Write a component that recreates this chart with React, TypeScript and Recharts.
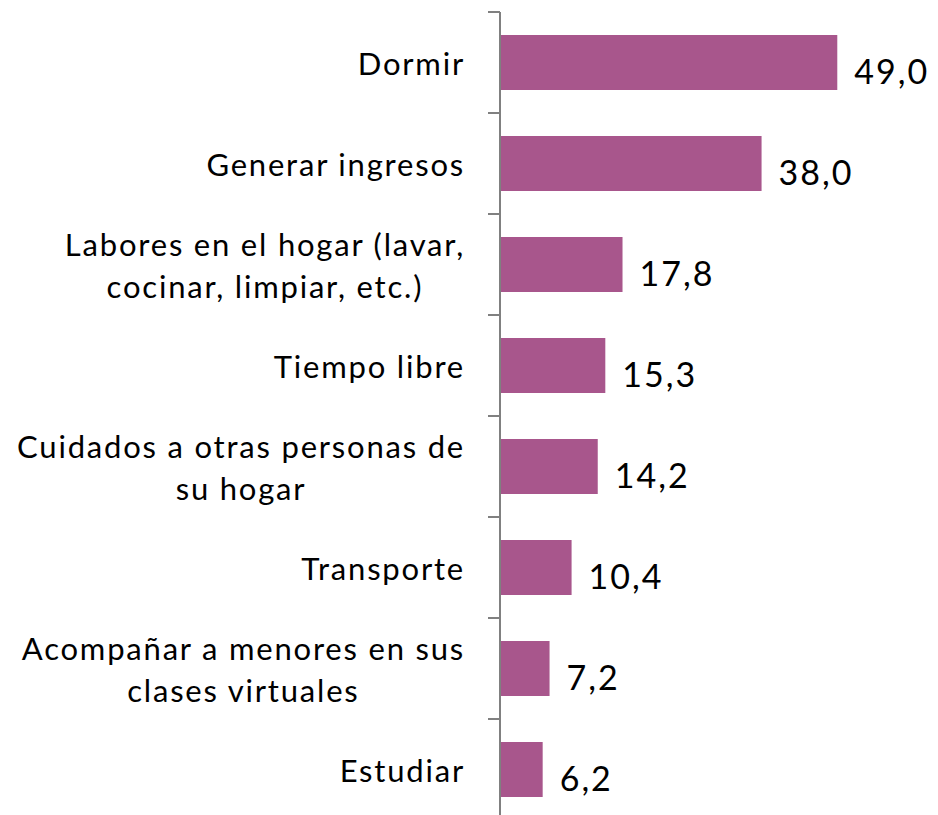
import React from 'react';
import { Bar, BarChart, LabelList, XAxis, YAxis } from 'recharts';

const categories = [
  'Dormir',
  'Generar ingresos',
  'Labores en el hogar (lavar,\ncocinar, limpiar, etc.)',
  'Tiempo libre',
  'Cuidados a otras personas de\nsu hogar',
  'Transporte',
  'Acompañar a menores en sus\nclases virtuales',
  'Estudiar',
];
const values = [49.0, 38.0, 17.8, 15.3, 14.2, 10.4, 7.2, 6.2];

const data = categories.map((name, i) => ({ name, value: values[i] }));

const W = 938;
const H = 820;
const TOP = 12;
const BAND = (H - TOP) / categories.length;
const FONT = 'Lato, "Open Sans", sans-serif';

const CategoryTick = (props: any) => {
  const { x, y, payload, index } = props;
  const lines = String(payload.value).split('\n');
  const axisX = x + 35;
  return (
    <g>
      <line x1={axisX - 12} x2={axisX} y1={y - BAND / 2} y2={y - BAND / 2} stroke="#808080" strokeWidth={2} />
      {index === categories.length - 1 && (
        <line x1={axisX - 12} x2={axisX} y1={y + BAND / 2} y2={y + BAND / 2} stroke="#808080" strokeWidth={2} />
      )}
      <foreignObject x={0} y={y - 50} width={x} height={100}>
        <div
          style={{
            display: 'flex',
            justifyContent: 'flex-end',
            alignItems: 'center',
            height: '100%',
          }}
        >
          <div
            style={{
              textAlign: 'center',
              fontFamily: FONT,
              fontSize: 31,
              letterSpacing: '1.8px',
              lineHeight: '42px',
              color: '#000',
              whiteSpace: 'nowrap',
            }}
          >
            {lines.map((l, i) => (
              <div key={i}>{l}</div>
            ))}
          </div>
        </div>
      </foreignObject>
    </g>
  );
};

const ValueLabel = (props: any) => {
  const { x, y, width, height, value } = props;
  return (
    <text
      x={x + width + 17}
      y={y + height / 2 + 8}
      dominantBaseline="central"
      fontFamily={FONT}
      fontSize={34}
      letterSpacing={2}
      fill="#000"
    >
      {Number(value).toFixed(1).replace('.', ',')}
    </text>
  );
};

export default function App() {
  return (
    <div style={{ position: 'absolute', left: 0, top: 0, background: '#fff' }}>
      <BarChart
        width={W}
        height={H}
        data={data}
        layout="vertical"
        margin={{ top: TOP, right: 25, left: 0, bottom: 0 }}
      >
        <XAxis type="number" domain={[0, 60]} hide />
        <YAxis
          type="category"
          dataKey="name"
          width={500}
          tickSize={12}
          tickMargin={23}
          tickLine={false}
          axisLine={{ stroke: '#808080', strokeWidth: 2 }}
          tick={<CategoryTick />}
          interval={0}
        />
        <Bar dataKey="value" fill="#A8568C" barSize={55} isAnimationActive={false}>
          <LabelList dataKey="value" content={<ValueLabel />} />
        </Bar>
      </BarChart>
    </div>
  );
}
